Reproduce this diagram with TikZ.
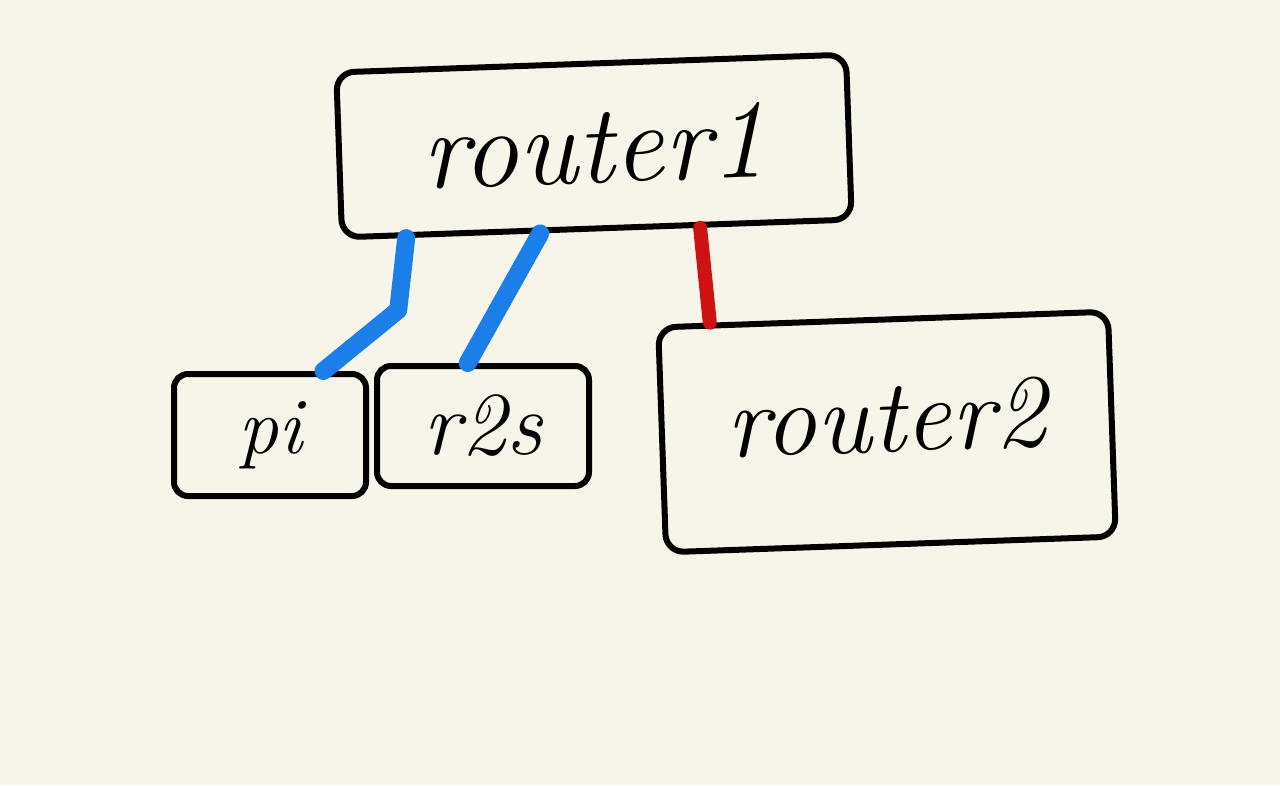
\documentclass[tikz,border=0pt]{standalone}
\usetikzlibrary{calc}
\definecolor{paper}{RGB}{247,245,234}
\definecolor{penblue}{RGB}{26,127,232}
\definecolor{penred}{RGB}{206,18,18}
\begin{document}
\begin{tikzpicture}[x=1pt,y=-1pt,
  box/.style={draw=black, line width=6pt, rounded corners=18pt, inner sep=0pt},
  bluewire/.style={draw=penblue, line width=18pt, line cap=round, line join=round},
  redwire/.style={draw=penred, line width=14pt, line cap=round}]
\fill[paper] (0,0) rectangle (1280,785);
\useasboundingbox (0,0) rectangle (1280,785);
\node[box, minimum width=510pt, minimum height=165pt, rotate=2,
  font=\fontsize{112}{112}\selectfont\itshape] (r1) at (594,146) {router1};
\node[box, minimum width=192pt, minimum height=122pt, rounded corners=14pt,
  font=\fontsize{80}{80}\selectfont\itshape] (pi) at (270,435) {pi};
\node[box, minimum width=212pt, minimum height=120pt, rounded corners=14pt,
  font=\fontsize{90}{90}\selectfont\itshape] (r2s) at (483,426) {r2s};
\node[box, minimum width=450pt, minimum height=225pt, rotate=2, text depth=30pt,
  font=\fontsize{104}{104}\selectfont\itshape] (r2) at (887,432) {router2};
\draw[bluewire] ($(r1.south west)!0.13!(r1.south east)$) -- ++(-8,72) -- ($(pi.north west)!0.77!(pi.north east)$);
\draw[bluewire] ($(r1.south west)!0.39!(r1.south east)$) -- ($(r2s.north west)!0.43!(r2s.north east)$);
\draw[redwire] ($(r1.south west)!0.70!(r1.south east)$) -- ($(r2.north west)!0.12!(r2.north east)$);
\end{tikzpicture}
\end{document}
